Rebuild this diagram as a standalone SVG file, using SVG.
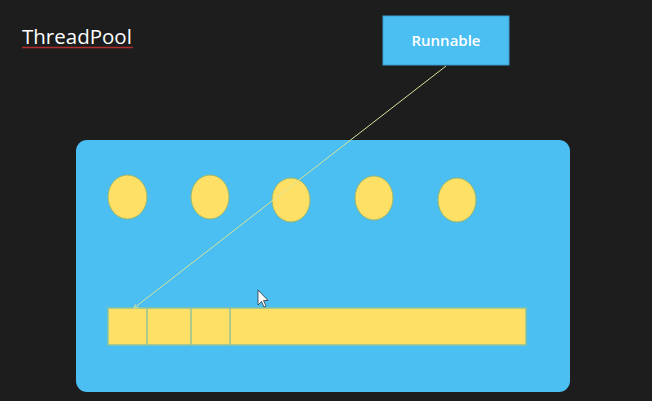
<svg xmlns="http://www.w3.org/2000/svg" width="652" height="401" viewBox="0 0 652 401">
<defs>
<style>
.bg{fill:#1d1d1d}
.pool{fill:#4bbef2}
.thread{fill:#ffe066;stroke:#9bb86a;stroke-width:1}
.cell{fill:#ffe066;stroke:#8fc49a;stroke-width:1.5}
.conn{stroke:#d6e39a;stroke-width:1;fill:none}
.lbl{font-family:"Open Sans","Noto Sans",sans-serif;fill:#ffffff}
</style>
<marker id="ah" viewBox="0 0 10 10" refX="9" refY="5" markerWidth="5" markerHeight="5" orient="auto">
<path d="M0,0 L10,5 L0,10" fill="none" stroke="#d6e39a" stroke-width="1.5"/>
</marker>
</defs>
<rect class="bg" x="0" y="0" width="652" height="401"/>
<g id="title">
<text class="lbl" x="22" y="44" font-size="20.5" fill="#f0f0f0">ThreadPool</text>
<path d="M22,47.5 L133,47.5" stroke="#b03030" stroke-width="1.5"/>
</g>
<g id="pool">
<rect class="pool" x="76" y="140" width="494" height="252" rx="11"/>
</g>
<g id="threads">
<ellipse id="t1" class="thread" cx="127.5" cy="197" rx="19.5" ry="22"/>
<ellipse id="t2" class="thread" cx="210" cy="197" rx="19" ry="22"/>
<ellipse id="t3" class="thread" cx="291" cy="200" rx="19" ry="22"/>
<ellipse id="t4" class="thread" cx="374" cy="198" rx="19" ry="22"/>
<ellipse id="t5" class="thread" cx="457" cy="200" rx="19" ry="22"/>
</g>
<g id="queue">
<rect class="cell" x="108" y="308" width="418" height="37"/>
<line class="cell" x1="147" y1="308" x2="147" y2="345"/>
<line class="cell" x1="191" y1="308" x2="191" y2="345"/>
<line class="cell" x1="230" y1="308" x2="230" y2="345"/>
</g>
<g id="runnable">
<rect x="383" y="16" width="126" height="49" fill="#4bbef2" stroke="#3a9fcf" stroke-width="1"/>
<text class="lbl" x="446" y="46" font-size="15" font-weight="600" text-anchor="middle">Runnable</text>
</g>
<g id="connectors">
<line class="conn" x1="446" y1="66" x2="134" y2="308" marker-end="url(#ah)"/>
</g>
<g id="cursor">
<path d="M258,290 L258,305 L261.5,301.5 L264,307 L266,306 L263.5,300.5 L268,300.5 Z" fill="#ffffff" stroke="#333" stroke-width="0.8"/>
</g>
</svg>
